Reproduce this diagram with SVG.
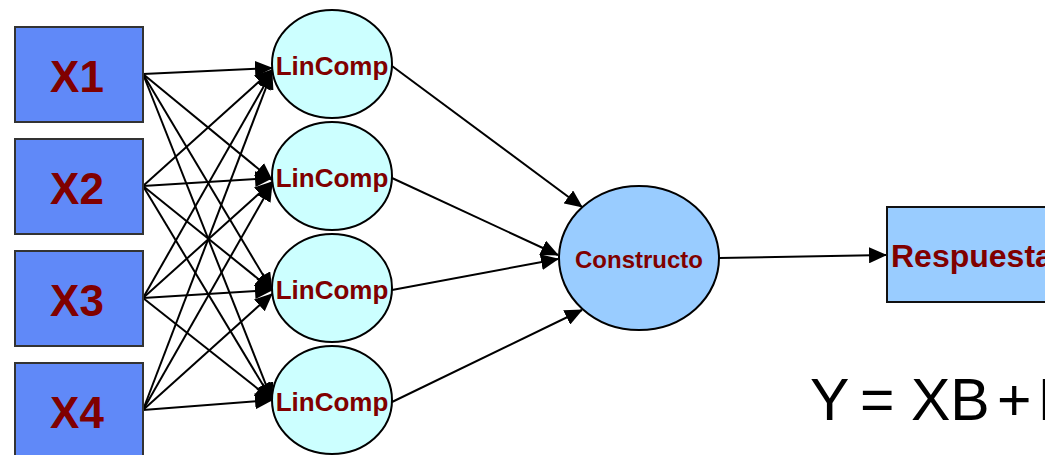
<svg xmlns="http://www.w3.org/2000/svg" width="1045" height="455" viewBox="0 0 1045 455">
  <style>
    .inp { fill: #6089f8; stroke: #333; stroke-width: 2; }
    .lin { fill: #ccffff; stroke: #000; stroke-width: 2; }
    .con { fill: #99ccff; stroke: #000; stroke-width: 2; }
    .out { fill: #99ccff; stroke: #111; stroke-width: 2; }
    .lbl { font-family: "Liberation Sans", Arial, sans-serif; font-weight: bold; fill: #800000; text-anchor: middle; }
    .edge { stroke: #000; stroke-width: 2; fill: none; marker-end: url(#arrow); }
    .eq { font-family: "Liberation Sans", Arial, sans-serif; font-size: 59px; fill: #000; }
  </style>
  <defs>
    <marker id="arrow" markerUnits="userSpaceOnUse" markerWidth="18" markerHeight="16" refX="17" refY="8" orient="auto">
      <path d="M0,0 L18,8 L0,16 z" fill="#000"/>
    </marker>
  </defs>

  <rect width="1045" height="455" fill="#fff"/>

  <!-- connectors -->
  <g id="connectors">
    <!-- inputs to linear composites -->
    <line class="edge" x1="143" y1="74" x2="272" y2="68"/>
    <line class="edge" x1="143" y1="74" x2="272" y2="180"/>
    <line class="edge" x1="143" y1="74" x2="272" y2="290"/>
    <line class="edge" x1="143" y1="74" x2="272" y2="400"/>
    <line class="edge" x1="143" y1="186" x2="272" y2="70"/>
    <line class="edge" x1="143" y1="186" x2="272" y2="178"/>
    <line class="edge" x1="143" y1="186" x2="272" y2="290"/>
    <line class="edge" x1="143" y1="186" x2="272" y2="400"/>
    <line class="edge" x1="143" y1="298" x2="272" y2="72"/>
    <line class="edge" x1="143" y1="298" x2="272" y2="182"/>
    <line class="edge" x1="143" y1="298" x2="272" y2="290"/>
    <line class="edge" x1="143" y1="298" x2="272" y2="400"/>
    <line class="edge" x1="143" y1="410" x2="272" y2="72"/>
    <line class="edge" x1="143" y1="410" x2="272" y2="184"/>
    <line class="edge" x1="143" y1="410" x2="272" y2="294"/>
    <line class="edge" x1="143" y1="410" x2="272" y2="400"/>
    <!-- composites to construct -->
    <line class="edge" x1="392" y1="66" x2="582" y2="207"/>
    <line class="edge" x1="392" y1="178" x2="558" y2="255"/>
    <line class="edge" x1="392" y1="290" x2="558" y2="259"/>
    <line class="edge" x1="392" y1="402" x2="582" y2="310"/>
    <!-- construct to response -->
    <line class="edge" x1="719" y1="258" x2="886" y2="255"/>
  </g>

  <g id="x1">
    <rect class="inp" x="15" y="27" width="128" height="95"/>
    <text class="lbl" x="77" y="92" font-size="44">X1</text>
  </g>
  <g id="x2">
    <rect class="inp" x="15" y="139" width="128" height="95"/>
    <text class="lbl" x="77" y="204" font-size="44">X2</text>
  </g>
  <g id="x3">
    <rect class="inp" x="15" y="251" width="128" height="95"/>
    <text class="lbl" x="77" y="316" font-size="44">X3</text>
  </g>
  <g id="x4">
    <rect class="inp" x="15" y="363" width="128" height="95"/>
    <text class="lbl" x="77" y="428" font-size="44">X4</text>
  </g>

  <g id="lincomp1">
    <ellipse class="lin" cx="332" cy="64" rx="60" ry="54"/>
    <text class="lbl" x="332" y="75" font-size="26">LinComp</text>
  </g>
  <g id="lincomp2">
    <ellipse class="lin" cx="332" cy="176" rx="60" ry="54"/>
    <text class="lbl" x="332" y="187" font-size="26">LinComp</text>
  </g>
  <g id="lincomp3">
    <ellipse class="lin" cx="332" cy="288" rx="60" ry="54"/>
    <text class="lbl" x="332" y="299" font-size="26">LinComp</text>
  </g>
  <g id="lincomp4">
    <ellipse class="lin" cx="332" cy="400" rx="60" ry="54"/>
    <text class="lbl" x="332" y="411" font-size="26">LinComp</text>
  </g>

  <g id="constructo">
    <ellipse class="con" cx="639" cy="258" rx="80" ry="72"/>
    <text class="lbl" x="639" y="268" font-size="24">Constructo</text>
  </g>

  <g id="respuesta">
    <rect class="out" x="887" y="207" width="200" height="95"/>
    <text class="lbl" x="891" y="267" font-size="32" style="text-anchor:start">Respuesta</text>
  </g>

  <!-- model equation -->
  <g id="equation">
    <text class="eq" y="420"><tspan x="810">Y</tspan><tspan x="860">=</tspan><tspan x="911">XB</tspan><tspan x="997">+</tspan><tspan x="1038">E</tspan></text>
  </g>
</svg>
